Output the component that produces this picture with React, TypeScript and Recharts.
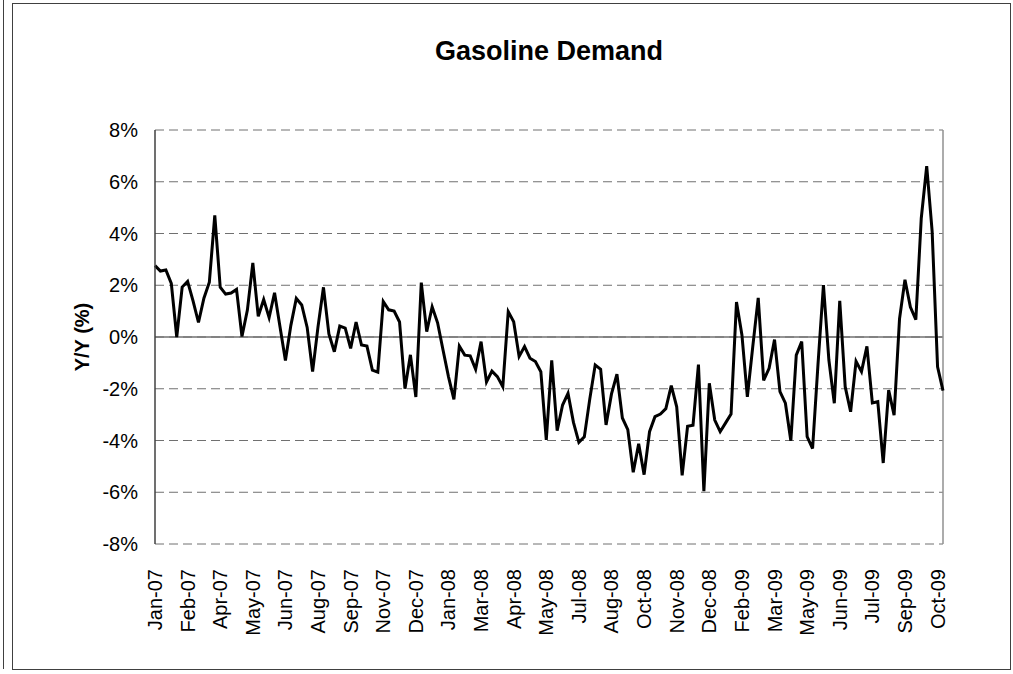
import { LineChart, Line, XAxis, YAxis, CartesianGrid, ReferenceLine } from 'recharts';

// weekly gasoline demand, year over year change (%), Jan-07 .. Oct-09
const yoyChange = [
  2.76, 2.55, 2.59, 2.07, 0.0, 1.93, 2.15, 1.4, 0.56, 1.5,
  2.12, 4.7, 1.93, 1.66, 1.7, 1.84, 0.02, 1.04, 2.86, 0.8,
  1.45, 0.75, 1.71, 0.4, -0.91, 0.45, 1.49, 1.24, 0.37, -1.34,
  0.4, 1.92, 0.12, -0.57, 0.42, 0.34, -0.44, 0.58, -0.31, -0.35,
  -1.28, -1.36, 1.37, 1.05, 1.0, 0.58, -2.0, -0.69, -2.32, 2.1,
  0.21, 1.17, 0.55, -0.5, -1.53, -2.41, -0.35, -0.7, -0.73, -1.25,
  -0.18, -1.74, -1.32, -1.53, -1.92, 0.98, 0.59, -0.75, -0.37, -0.82,
  -0.95, -1.34, -3.98, -0.9, -3.62, -2.63, -2.18, -3.3, -4.07, -3.86,
  -2.4, -1.08, -1.25, -3.4, -2.2, -1.44, -3.13, -3.58, -5.23, -4.13,
  -5.32, -3.66, -3.08, -2.98, -2.77, -1.88, -2.7, -5.35, -3.45, -3.41,
  -1.07, -5.96, -1.79, -3.21, -3.66, -3.32, -2.98, 1.35, 0.08, -2.31,
  -0.36, 1.51, -1.68, -1.21, -0.1, -2.11, -2.56, -4.01, -0.7, -0.18,
  -3.85, -4.31, -1.05, 2.01, -0.89, -2.56, 1.4, -1.92, -2.89, -0.94,
  -1.34, -0.36, -2.55, -2.5, -4.87, -2.05, -3.02, 0.7, 2.21, 1.16,
  0.67, 4.59, 6.6, 4.09, -1.15, -2.07,
];

// a label every 6th week
const tickLabels = [
  'Jan-07', 'Feb-07', 'Apr-07', 'May-07', 'Jun-07', 'Aug-07', 'Sep-07', 'Nov-07', 'Dec-07',
  'Jan-08', 'Mar-08', 'Apr-08', 'May-08', 'Jul-08', 'Aug-08', 'Oct-08', 'Nov-08', 'Dec-08',
  'Feb-09', 'Mar-09', 'May-09', 'Jun-09', 'Jul-09', 'Sep-09', 'Oct-09',
];
const labelStep = 6;

const yTicks = [-8, -6, -4, -2, 0, 2, 4, 6, 8];

const FONT = '"Liberation Sans", Arial, sans-serif';

const data = yoyChange.map((v, i) => ({ week: i, yoy: v }));
const xTicks = tickLabels.map((_, k) => k * labelStep);

function DateTick({ x, y, payload }: any) {
  const label = tickLabels[Math.round(payload.value / labelStep)];
  return (
    <text
      x={x}
      y={y + 17}
      transform={`rotate(-90, ${x}, ${y + 17})`}
      textAnchor="end"
      dominantBaseline="central"
      fontSize={20}
      fontFamily={FONT}
      fill="#000"
    >
      {label}
    </text>
  );
}

export default function App() {
  return (
    <div style={{ position: 'absolute', left: 0, top: 0, width: 1013, height: 674, background: '#fff', fontFamily: FONT }}>
      <div style={{ position: 'absolute', left: 3, top: 0, width: 0, height: 669, borderLeft: '1px solid #404040' }} />
      <div style={{ position: 'absolute', left: 12, top: 3, width: 997, height: 665, border: '1px solid #404040' }} />
      <div
        style={{
          position: 'absolute', left: 155, width: 788, top: 36, textAlign: 'center',
          fontSize: 27, fontWeight: 'bold', color: '#000',
        }}
      >
        Gasoline Demand
      </div>
      <div
        style={{
          position: 'absolute', left: 82, top: 337, transform: 'translate(-50%, -50%) rotate(-90deg)',
          fontSize: 20, fontWeight: 'bold', whiteSpace: 'nowrap', color: '#000',
        }}
      >
        Y/Y (%)
      </div>
      <div style={{ position: 'absolute', left: 0, top: 0 }}>
        <LineChart width={1013} height={674} data={data} margin={{ top: 130, right: 70, bottom: 0, left: 0 }}>
          <CartesianGrid vertical={false} stroke="#707070" strokeDasharray="9 5" />
          <XAxis
            dataKey="week"
            type="number"
            domain={[0, yoyChange.length - 1]}
            ticks={xTicks}
            interval={0}
            height={130}
            axisLine={false}
            tickLine={false}
            tick={<DateTick />}
          />
          <YAxis
            domain={[-8, 8]}
            ticks={yTicks}
            width={155}
            axisLine={{ stroke: '#404040', strokeWidth: 1.5 }}
            tickLine={false}
            tickSize={0}
            tickMargin={17}
            tickFormatter={(v: number) => `${v}%`}
            tick={{ fill: '#000', fontSize: 20, fontFamily: FONT }}
          />
          <ReferenceLine y={0} stroke="#707070" strokeWidth={1.5} />
          <ReferenceLine x={yoyChange.length - 1} stroke="#909090" strokeWidth={1.5} />
          <Line
            type="linear"
            dataKey="yoy"
            stroke="#000"
            strokeWidth={3}
            dot={false}
            isAnimationActive={false}
          />
        </LineChart>
      </div>
    </div>
  );
}
